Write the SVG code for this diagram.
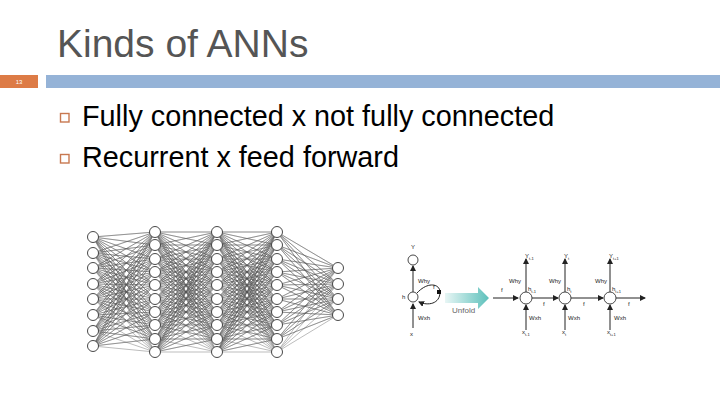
<svg xmlns="http://www.w3.org/2000/svg" width="720" height="405" viewBox="0 0 720 405">
<style>
.t{font-family:"Liberation Sans",Arial,sans-serif}
.e{stroke:#555;stroke-width:0.4;fill:none}
.n{fill:#fff;stroke:#333;stroke-width:0.9}
.r{stroke:#222;stroke-width:1;fill:none}
.s{font-family:"Liberation Sans",Arial,sans-serif;font-size:6px;fill:#222}
</style>
<defs>
<marker id="a" markerWidth="6" markerHeight="6" refX="5" refY="3" orient="auto" markerUnits="userSpaceOnUse"><path d="M0 0L6 3L0 6z" fill="#222"/></marker>
<linearGradient id="g" x1="0" x2="1"><stop offset="0" stop-color="#e8f6f5"/><stop offset="1" stop-color="#5cc0bb"/></linearGradient>
</defs>
<rect width="720" height="405" fill="#fff"/>
<text class="t" x="57" y="57" font-size="39" fill="#555">Kinds of ANNs</text>
<rect x="0" y="75" width="38" height="13" fill="#dd7b46"/>
<text class="t" x="19" y="84" font-size="6" fill="#fff" text-anchor="middle">13</text>
<rect x="46" y="75" width="674" height="13" fill="#95b3d7"/>
<g id="b1"><rect x="60.5" y="113.5" width="8.5" height="8.5" fill="none" stroke="#c87850" stroke-width="1.4"/><text class="t" x="82" y="126" font-size="28.8" fill="#000">Fully connected x not fully connected</text></g>
<g id="b2"><rect x="60.5" y="154.5" width="8.5" height="8.5" fill="none" stroke="#c87850" stroke-width="1.4"/><text class="t" x="82" y="167" font-size="28.8" fill="#000">Recurrent x feed forward</text></g>
<g id="connectors">
<path class="e" d="M93 237 155 232 93 237 155 245 93 237 155 259 93 237 155 272 93 237 155 285 93 237 155 299 93 237 155 312 93 237 155 325 93 237 155 339 93 237 155 352
M93 253 155 232 93 253 155 245 93 253 155 259 93 253 155 272 93 253 155 285 93 253 155 299 93 253 155 312 93 253 155 325 93 253 155 339 93 253 155 352
M93 268 155 232 93 268 155 245 93 268 155 259 93 268 155 272 93 268 155 285 93 268 155 299 93 268 155 312 93 268 155 325 93 268 155 339 93 268 155 352
M93 284 155 232 93 284 155 245 93 284 155 259 93 284 155 272 93 284 155 285 93 284 155 299 93 284 155 312 93 284 155 325 93 284 155 339 93 284 155 352
M93 299 155 232 93 299 155 245 93 299 155 259 93 299 155 272 93 299 155 285 93 299 155 299 93 299 155 312 93 299 155 325 93 299 155 339 93 299 155 352
M93 315 155 232 93 315 155 245 93 315 155 259 93 315 155 272 93 315 155 285 93 315 155 299 93 315 155 312 93 315 155 325 93 315 155 339 93 315 155 352
M93 331 155 232 93 331 155 245 93 331 155 259 93 331 155 272 93 331 155 285 93 331 155 299 93 331 155 312 93 331 155 325 93 331 155 339 93 331 155 352
M93 346 155 232 93 346 155 245 93 346 155 259 93 346 155 272 93 346 155 285 93 346 155 299 93 346 155 312 93 346 155 325 93 346 155 339 93 346 155 352"/>
<path class="e" d="M155 232 217 232 155 232 217 245 155 232 217 259 155 232 217 272 155 232 217 285 155 232 217 299 155 232 217 312 155 232 217 325 155 232 217 339 155 232 217 352
M155 245 217 232 155 245 217 245 155 245 217 259 155 245 217 272 155 245 217 285 155 245 217 299 155 245 217 312 155 245 217 325 155 245 217 339 155 245 217 352
M155 259 217 232 155 259 217 245 155 259 217 259 155 259 217 272 155 259 217 285 155 259 217 299 155 259 217 312 155 259 217 325 155 259 217 339 155 259 217 352
M155 272 217 232 155 272 217 245 155 272 217 259 155 272 217 272 155 272 217 285 155 272 217 299 155 272 217 312 155 272 217 325 155 272 217 339 155 272 217 352
M155 285 217 232 155 285 217 245 155 285 217 259 155 285 217 272 155 285 217 285 155 285 217 299 155 285 217 312 155 285 217 325 155 285 217 339 155 285 217 352
M155 299 217 232 155 299 217 245 155 299 217 259 155 299 217 272 155 299 217 285 155 299 217 299 155 299 217 312 155 299 217 325 155 299 217 339 155 299 217 352
M155 312 217 232 155 312 217 245 155 312 217 259 155 312 217 272 155 312 217 285 155 312 217 299 155 312 217 312 155 312 217 325 155 312 217 339 155 312 217 352
M155 325 217 232 155 325 217 245 155 325 217 259 155 325 217 272 155 325 217 285 155 325 217 299 155 325 217 312 155 325 217 325 155 325 217 339 155 325 217 352
M155 339 217 232 155 339 217 245 155 339 217 259 155 339 217 272 155 339 217 285 155 339 217 299 155 339 217 312 155 339 217 325 155 339 217 339 155 339 217 352
M155 352 217 232 155 352 217 245 155 352 217 259 155 352 217 272 155 352 217 285 155 352 217 299 155 352 217 312 155 352 217 325 155 352 217 339 155 352 217 352"/>
<path class="e" d="M217 232 277 232 217 232 277 245 217 232 277 259 217 232 277 272 217 232 277 285 217 232 277 299 217 232 277 312 217 232 277 325 217 232 277 339 217 232 277 352
M217 245 277 232 217 245 277 245 217 245 277 259 217 245 277 272 217 245 277 285 217 245 277 299 217 245 277 312 217 245 277 325 217 245 277 339 217 245 277 352
M217 259 277 232 217 259 277 245 217 259 277 259 217 259 277 272 217 259 277 285 217 259 277 299 217 259 277 312 217 259 277 325 217 259 277 339 217 259 277 352
M217 272 277 232 217 272 277 245 217 272 277 259 217 272 277 272 217 272 277 285 217 272 277 299 217 272 277 312 217 272 277 325 217 272 277 339 217 272 277 352
M217 285 277 232 217 285 277 245 217 285 277 259 217 285 277 272 217 285 277 285 217 285 277 299 217 285 277 312 217 285 277 325 217 285 277 339 217 285 277 352
M217 299 277 232 217 299 277 245 217 299 277 259 217 299 277 272 217 299 277 285 217 299 277 299 217 299 277 312 217 299 277 325 217 299 277 339 217 299 277 352
M217 312 277 232 217 312 277 245 217 312 277 259 217 312 277 272 217 312 277 285 217 312 277 299 217 312 277 312 217 312 277 325 217 312 277 339 217 312 277 352
M217 325 277 232 217 325 277 245 217 325 277 259 217 325 277 272 217 325 277 285 217 325 277 299 217 325 277 312 217 325 277 325 217 325 277 339 217 325 277 352
M217 339 277 232 217 339 277 245 217 339 277 259 217 339 277 272 217 339 277 285 217 339 277 299 217 339 277 312 217 339 277 325 217 339 277 339 217 339 277 352
M217 352 277 232 217 352 277 245 217 352 277 259 217 352 277 272 217 352 277 285 217 352 277 299 217 352 277 312 217 352 277 325 217 352 277 339 217 352 277 352"/>
<path class="e" d="M338 268 277 232 338 268 277 245 338 268 277 259 338 268 277 272 338 268 277 285 338 268 277 299 338 268 277 312 338 268 277 325 338 268 277 339 338 268 277 352
M338 284 277 232 338 284 277 245 338 284 277 259 338 284 277 272 338 284 277 285 338 284 277 299 338 284 277 312 338 284 277 325 338 284 277 339 338 284 277 352
M338 299 277 232 338 299 277 245 338 299 277 259 338 299 277 272 338 299 277 285 338 299 277 299 338 299 277 312 338 299 277 325 338 299 277 339 338 299 277 352
M338 315 277 232 338 315 277 245 338 315 277 259 338 315 277 272 338 315 277 285 338 315 277 299 338 315 277 312 338 315 277 325 338 315 277 339 338 315 277 352"/>
<path class="r" d="M413 292V266" marker-end="url(#a)"/>
<path class="r" d="M413 328V304" marker-end="url(#a)"/>
<path class="r" d="M417 293C428 281 440 284 440 292C440 304 428 306 419 302" marker-end="url(#a)"/>
<rect x="437" y="290" width="4" height="4" fill="#111"/>
<path class="r" d="M493 298H518" marker-end="url(#a)"/>
<path class="r" d="M532 298H558" marker-end="url(#a)"/>
<path class="r" d="M571 298H603" marker-end="url(#a)"/>
<path class="r" d="M616 298H645" marker-end="url(#a)"/>
<path class="r" d="M526 292V259" marker-end="url(#a)"/>
<path class="r" d="M565 292V259" marker-end="url(#a)"/>
<path class="r" d="M610 292V259" marker-end="url(#a)"/>
<path class="r" d="M526 330V305" marker-end="url(#a)"/>
<path class="r" d="M565 330V305" marker-end="url(#a)"/>
<path class="r" d="M610 330V305" marker-end="url(#a)"/>
<path d="M445 293H478V287L489 298L478 309V303H445Z" fill="url(#g)"/>
</g>
<g id="ann">
<circle class="n" cx="93" cy="237" r="5.5"/><circle class="n" cx="93" cy="253" r="5.5"/><circle class="n" cx="93" cy="268" r="5.5"/><circle class="n" cx="93" cy="284" r="5.5"/><circle class="n" cx="93" cy="299" r="5.5"/><circle class="n" cx="93" cy="315" r="5.5"/><circle class="n" cx="93" cy="331" r="5.5"/><circle class="n" cx="93" cy="346" r="5.5"/>
<circle class="n" cx="155" cy="232" r="5.5"/><circle class="n" cx="155" cy="245" r="5.5"/><circle class="n" cx="155" cy="259" r="5.5"/><circle class="n" cx="155" cy="272" r="5.5"/><circle class="n" cx="155" cy="285" r="5.5"/><circle class="n" cx="155" cy="299" r="5.5"/><circle class="n" cx="155" cy="312" r="5.5"/><circle class="n" cx="155" cy="325" r="5.5"/><circle class="n" cx="155" cy="339" r="5.5"/><circle class="n" cx="155" cy="352" r="5.5"/>
<circle class="n" cx="217" cy="232" r="5.5"/><circle class="n" cx="217" cy="245" r="5.5"/><circle class="n" cx="217" cy="259" r="5.5"/><circle class="n" cx="217" cy="272" r="5.5"/><circle class="n" cx="217" cy="285" r="5.5"/><circle class="n" cx="217" cy="299" r="5.5"/><circle class="n" cx="217" cy="312" r="5.5"/><circle class="n" cx="217" cy="325" r="5.5"/><circle class="n" cx="217" cy="339" r="5.5"/><circle class="n" cx="217" cy="352" r="5.5"/>
<circle class="n" cx="277" cy="232" r="5.5"/><circle class="n" cx="277" cy="245" r="5.5"/><circle class="n" cx="277" cy="259" r="5.5"/><circle class="n" cx="277" cy="272" r="5.5"/><circle class="n" cx="277" cy="285" r="5.5"/><circle class="n" cx="277" cy="299" r="5.5"/><circle class="n" cx="277" cy="312" r="5.5"/><circle class="n" cx="277" cy="325" r="5.5"/><circle class="n" cx="277" cy="339" r="5.5"/><circle class="n" cx="277" cy="352" r="5.5"/>
<circle class="n" cx="338" cy="268" r="5.5"/><circle class="n" cx="338" cy="284" r="5.5"/><circle class="n" cx="338" cy="299" r="5.5"/><circle class="n" cx="338" cy="315" r="5.5"/>
</g>
<g id="rnn-folded">
<circle class="n" cx="413" cy="260" r="5"/><circle class="n" cx="413" cy="297" r="5"/>
<text class="s" x="411" y="249">Y</text>
<text class="s" x="418" y="283">Why</text>
<text class="s" x="402" y="299">h</text>
<text class="s" x="433" y="289">f</text>
<text class="s" x="418" y="320">Wxh</text>
<text class="s" x="410" y="336">x</text>
<text class="t" x="452" y="313" font-size="8" fill="#666">Unfold</text>
</g>
<g id="rnn-unfolded">
<circle class="n" cx="526" cy="298" r="6"/><circle class="n" cx="565" cy="298" r="6"/><circle class="n" cx="610" cy="298" r="6"/>
<text class="s" x="501" y="292">f</text><text class="s" x="543" y="306">f</text><text class="s" x="583" y="306">f</text><text class="s" x="628" y="306">f</text>
<text class="s" x="525" y="258">Y<tspan font-size="4" dy="2">t-1</tspan></text>
<text class="s" x="564" y="258">Y<tspan font-size="4" dy="2">t</tspan></text>
<text class="s" x="609" y="258">Y<tspan font-size="4" dy="2">t+1</tspan></text>
<text class="s" x="509" y="283">Why</text><text class="s" x="549" y="283">Why</text><text class="s" x="595" y="283">Why</text>
<text class="s" x="528" y="291">h<tspan font-size="4" dy="2">t-1</tspan></text>
<text class="s" x="567" y="291">h<tspan font-size="4" dy="2">t</tspan></text>
<text class="s" x="612" y="291">h<tspan font-size="4" dy="2">t+1</tspan></text>
<text class="s" x="529" y="320">Wxh</text><text class="s" x="568" y="320">Wxh</text><text class="s" x="614" y="320">Wxh</text>
<text class="s" x="522" y="334">x<tspan font-size="4" dy="2">t-1</tspan></text>
<text class="s" x="562" y="334">x<tspan font-size="4" dy="2">t</tspan></text>
<text class="s" x="607" y="334">x<tspan font-size="4" dy="2">t+1</tspan></text>
</g>
</svg>
